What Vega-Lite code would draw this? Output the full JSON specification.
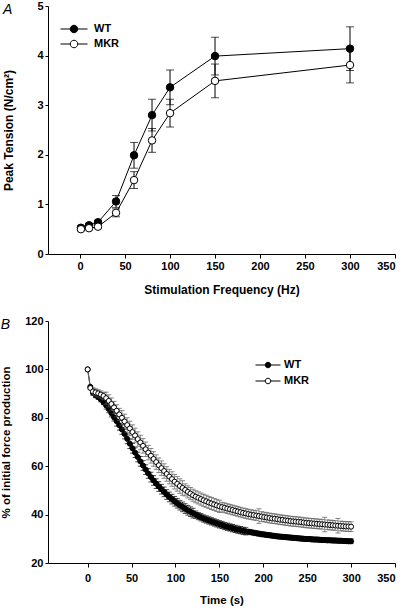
{
"$schema":"https://vega.github.io/schema/vega-lite/v6.json",
"padding":{"left":0,"top":0,"right":0,"bottom":0},
"background":"white",
"config":{
 "font":"Liberation Sans",
 "view":{"stroke":null},
 "axis":{"labelFont":"Liberation Sans","labelFontSize":11,"labelFontWeight":"bold","labelColor":"black","titleFont":"Liberation Sans","titleFontSize":11.5,"titleFontWeight":"bold","titleColor":"black","domainColor":"black","tickColor":"black","grid":false,"tickSize":4,"labelPadding":2,"domainWidth":1,"tickWidth":1},
 "title":{"font":"Liberation Sans","fontStyle":"italic","fontWeight":"normal","fontSize":14,"color":"black","anchor":"start","frame":"bounds"}
},
"datasets":{
"freq":[
{"g":"WT","f":1,"v":0.53,"e":0.04},{"g":"WT","f":10,"v":0.58,"e":0.04},{"g":"WT","f":20,"v":0.64,"e":0.04},{"g":"WT","f":40,"v":1.06,"e":0.12},{"g":"WT","f":60,"v":1.99,"e":0.26},{"g":"WT","f":80,"v":2.8,"e":0.32},{"g":"WT","f":100,"v":3.36,"e":0.35},{"g":"WT","f":150,"v":3.99,"e":0.38},{"g":"WT","f":300,"v":4.14,"e":0.44},
{"g":"MKR","f":1,"v":0.5,"e":0.03},{"g":"MKR","f":10,"v":0.52,"e":0.03},{"g":"MKR","f":20,"v":0.55,"e":0.03},{"g":"MKR","f":40,"v":0.83,"e":0.08},{"g":"MKR","f":60,"v":1.49,"e":0.17},{"g":"MKR","f":80,"v":2.29,"e":0.24},{"g":"MKR","f":100,"v":2.84,"e":0.28},{"g":"MKR","f":150,"v":3.49,"e":0.34},{"g":"MKR","f":300,"v":3.81,"e":0.36}
],
"fat":[
{"g":"WT","t":0,"v":100,"e":0},{"g":"WT","t":3,"v":92.8,"e":0.5},{"g":"WT","t":6,"v":90.3,"e":1},{"g":"WT","t":9,"v":89.3,"e":1},{"g":"WT","t":12,"v":88.6,"e":1},{"g":"WT","t":15,"v":87.6,"e":1},{"g":"WT","t":18,"v":86.4,"e":1},{"g":"WT","t":21,"v":85.1,"e":1.5},{"g":"WT","t":24,"v":83.6,"e":1.5},{"g":"WT","t":27,"v":81.9,"e":1.5},{"g":"WT","t":30,"v":80.2,"e":1.5},
{"g":"WT","t":33,"v":78.6,"e":2},{"g":"WT","t":36,"v":76.9,"e":2},{"g":"WT","t":39,"v":75.2,"e":2},{"g":"WT","t":42,"v":73.3,"e":2},{"g":"WT","t":45,"v":71.3,"e":2},{"g":"WT","t":48,"v":69.3,"e":2},{"g":"WT","t":51,"v":67.4,"e":2},{"g":"WT","t":54,"v":65.6,"e":2},{"g":"WT","t":57,"v":63.8,"e":2},{"g":"WT","t":60,"v":62,"e":2},
{"g":"WT","t":63,"v":60.3,"e":2},{"g":"WT","t":66,"v":58.6,"e":2},{"g":"WT","t":69,"v":57,"e":2},{"g":"WT","t":72,"v":55.5,"e":2},{"g":"WT","t":75,"v":54.1,"e":2},{"g":"WT","t":78,"v":52.8,"e":2},{"g":"WT","t":81,"v":51.6,"e":2},{"g":"WT","t":84,"v":50.5,"e":2},{"g":"WT","t":87,"v":49.4,"e":2},{"g":"WT","t":90,"v":48.3,"e":2},
{"g":"WT","t":93,"v":47.3,"e":2},{"g":"WT","t":96,"v":46.4,"e":2},{"g":"WT","t":99,"v":45.5,"e":2},{"g":"WT","t":102,"v":44.7,"e":2},{"g":"WT","t":105,"v":43.9,"e":2},{"g":"WT","t":108,"v":43.2,"e":2},{"g":"WT","t":111,"v":42.5,"e":2},{"g":"WT","t":114,"v":41.8,"e":2},{"g":"WT","t":117,"v":41.2,"e":2},{"g":"WT","t":120,"v":40.6,"e":2},
{"g":"WT","t":123,"v":40,"e":1.5},{"g":"WT","t":126,"v":39.4,"e":1.5},{"g":"WT","t":129,"v":38.9,"e":1.5},{"g":"WT","t":132,"v":38.4,"e":1.5},{"g":"WT","t":135,"v":38,"e":1.5},{"g":"WT","t":138,"v":37.6,"e":1.5},{"g":"WT","t":141,"v":37.2,"e":1.5},{"g":"WT","t":144,"v":36.8,"e":1.5},{"g":"WT","t":147,"v":36.4,"e":1.5},{"g":"WT","t":150,"v":36,"e":1.5},
{"g":"WT","t":153,"v":35.7,"e":1.5},{"g":"WT","t":156,"v":35.3,"e":1.5},{"g":"WT","t":159,"v":35,"e":1.5},{"g":"WT","t":162,"v":34.7,"e":1.5},{"g":"WT","t":165,"v":34.4,"e":1.5},{"g":"WT","t":168,"v":34.1,"e":1.5},{"g":"WT","t":171,"v":33.8,"e":1.5},{"g":"WT","t":174,"v":33.6,"e":1.5},{"g":"WT","t":177,"v":33.3,"e":1.5},{"g":"WT","t":180,"v":33.1,"e":1.5},
{"g":"WT","t":183,"v":32.9,"e":1},{"g":"WT","t":186,"v":32.7,"e":1},{"g":"WT","t":189,"v":32.5,"e":1},{"g":"WT","t":192,"v":32.3,"e":1},{"g":"WT","t":195,"v":32.1,"e":1},{"g":"WT","t":198,"v":31.9,"e":1},{"g":"WT","t":201,"v":31.8,"e":1},{"g":"WT","t":204,"v":31.6,"e":1},{"g":"WT","t":207,"v":31.5,"e":1},{"g":"WT","t":210,"v":31.3,"e":1},
{"g":"WT","t":213,"v":31.2,"e":1},{"g":"WT","t":216,"v":31,"e":1},{"g":"WT","t":219,"v":30.9,"e":1},{"g":"WT","t":222,"v":30.8,"e":1},{"g":"WT","t":225,"v":30.7,"e":1},{"g":"WT","t":228,"v":30.6,"e":1},{"g":"WT","t":231,"v":30.5,"e":1},{"g":"WT","t":234,"v":30.4,"e":1},{"g":"WT","t":237,"v":30.3,"e":1},{"g":"WT","t":240,"v":30.2,"e":1},
{"g":"WT","t":243,"v":30.1,"e":1},{"g":"WT","t":246,"v":30,"e":1},{"g":"WT","t":249,"v":29.9,"e":1},{"g":"WT","t":252,"v":29.9,"e":1},{"g":"WT","t":255,"v":29.8,"e":1},{"g":"WT","t":258,"v":29.7,"e":1},{"g":"WT","t":261,"v":29.7,"e":1},{"g":"WT","t":264,"v":29.6,"e":1},{"g":"WT","t":267,"v":29.5,"e":1},{"g":"WT","t":270,"v":29.5,"e":1},
{"g":"WT","t":273,"v":29.4,"e":1},{"g":"WT","t":276,"v":29.4,"e":1},{"g":"WT","t":279,"v":29.3,"e":1},{"g":"WT","t":282,"v":29.3,"e":1},{"g":"WT","t":285,"v":29.2,"e":1},{"g":"WT","t":288,"v":29.2,"e":1},{"g":"WT","t":291,"v":29.1,"e":1},{"g":"WT","t":294,"v":29.1,"e":1},{"g":"WT","t":297,"v":29,"e":1},{"g":"WT","t":300,"v":29,"e":1},
{"g":"MKR","t":0,"v":100,"e":0},{"g":"MKR","t":3,"v":92.3,"e":0.5},{"g":"MKR","t":6,"v":90.9,"e":1.5},{"g":"MKR","t":9,"v":90.5,"e":1.5},{"g":"MKR","t":12,"v":90.1,"e":1.5},{"g":"MKR","t":15,"v":89.6,"e":1.5},{"g":"MKR","t":18,"v":89,"e":1.5},{"g":"MKR","t":21,"v":88.1,"e":2.5},{"g":"MKR","t":24,"v":87,"e":2.5},{"g":"MKR","t":27,"v":85.7,"e":2.5},{"g":"MKR","t":30,"v":84.3,"e":2.5},
{"g":"MKR","t":33,"v":82.9,"e":2.5},{"g":"MKR","t":36,"v":81.4,"e":2.5},{"g":"MKR","t":39,"v":80,"e":3},{"g":"MKR","t":42,"v":78.5,"e":3},{"g":"MKR","t":45,"v":77,"e":3},{"g":"MKR","t":48,"v":75.6,"e":3},{"g":"MKR","t":51,"v":74.1,"e":3},{"g":"MKR","t":54,"v":72.7,"e":3},{"g":"MKR","t":57,"v":71.2,"e":3},{"g":"MKR","t":60,"v":69.8,"e":3},
{"g":"MKR","t":63,"v":68.4,"e":3},{"g":"MKR","t":66,"v":67,"e":3},{"g":"MKR","t":69,"v":65.6,"e":3},{"g":"MKR","t":72,"v":64.3,"e":3},{"g":"MKR","t":75,"v":63,"e":3},{"g":"MKR","t":78,"v":61.7,"e":3},{"g":"MKR","t":81,"v":60.4,"e":3},{"g":"MKR","t":84,"v":59.2,"e":3},{"g":"MKR","t":87,"v":58,"e":3},{"g":"MKR","t":90,"v":56.8,"e":3},
{"g":"MKR","t":93,"v":55.7,"e":3},{"g":"MKR","t":96,"v":54.7,"e":3},{"g":"MKR","t":99,"v":53.6,"e":3},{"g":"MKR","t":102,"v":52.7,"e":3},{"g":"MKR","t":105,"v":51.8,"e":3},{"g":"MKR","t":108,"v":51,"e":3},{"g":"MKR","t":111,"v":50.2,"e":2.5},{"g":"MKR","t":114,"v":49.4,"e":2.5},{"g":"MKR","t":117,"v":48.7,"e":2.5},{"g":"MKR","t":120,"v":48,"e":2.5},
{"g":"MKR","t":123,"v":47.4,"e":2.5},{"g":"MKR","t":126,"v":46.9,"e":2.5},{"g":"MKR","t":129,"v":46.4,"e":2.5},{"g":"MKR","t":132,"v":45.9,"e":2.5},{"g":"MKR","t":135,"v":45.5,"e":2.5},{"g":"MKR","t":138,"v":45,"e":2.5},{"g":"MKR","t":141,"v":44.6,"e":2.5},{"g":"MKR","t":144,"v":44.2,"e":2.5},{"g":"MKR","t":147,"v":43.8,"e":2.5},{"g":"MKR","t":150,"v":43.4,"e":2.5},
{"g":"MKR","t":153,"v":43.1,"e":2},{"g":"MKR","t":156,"v":42.8,"e":2},{"g":"MKR","t":159,"v":42.5,"e":2},{"g":"MKR","t":162,"v":42.2,"e":2},{"g":"MKR","t":165,"v":41.9,"e":2},{"g":"MKR","t":168,"v":41.6,"e":2},{"g":"MKR","t":171,"v":41.3,"e":2},{"g":"MKR","t":174,"v":41,"e":2},{"g":"MKR","t":177,"v":40.7,"e":2},{"g":"MKR","t":180,"v":40.5,"e":2},
{"g":"MKR","t":183,"v":40.2,"e":2},{"g":"MKR","t":186,"v":40,"e":2},{"g":"MKR","t":189,"v":39.8,"e":2},{"g":"MKR","t":192,"v":39.6,"e":2},{"g":"MKR","t":195,"v":39.4,"e":3},{"g":"MKR","t":198,"v":39.2,"e":2},{"g":"MKR","t":201,"v":39,"e":2},{"g":"MKR","t":204,"v":38.8,"e":2},{"g":"MKR","t":207,"v":38.6,"e":2},{"g":"MKR","t":210,"v":38.4,"e":2},
{"g":"MKR","t":213,"v":38.3,"e":2},{"g":"MKR","t":216,"v":38.1,"e":2},{"g":"MKR","t":219,"v":37.9,"e":2},{"g":"MKR","t":222,"v":37.8,"e":2},{"g":"MKR","t":225,"v":37.6,"e":2},{"g":"MKR","t":228,"v":37.5,"e":2},{"g":"MKR","t":231,"v":37.3,"e":2},{"g":"MKR","t":234,"v":37.2,"e":2},{"g":"MKR","t":237,"v":37.1,"e":2},{"g":"MKR","t":240,"v":37,"e":2},
{"g":"MKR","t":243,"v":36.9,"e":2},{"g":"MKR","t":246,"v":36.7,"e":2},{"g":"MKR","t":249,"v":36.6,"e":2},{"g":"MKR","t":252,"v":36.5,"e":2},{"g":"MKR","t":255,"v":36.4,"e":2},{"g":"MKR","t":258,"v":36.3,"e":2},{"g":"MKR","t":261,"v":36.2,"e":2},{"g":"MKR","t":264,"v":36.1,"e":2},{"g":"MKR","t":267,"v":36,"e":2},{"g":"MKR","t":270,"v":35.9,"e":3},
{"g":"MKR","t":273,"v":35.8,"e":2},{"g":"MKR","t":276,"v":35.7,"e":2},{"g":"MKR","t":279,"v":35.6,"e":2},{"g":"MKR","t":282,"v":35.5,"e":2},{"g":"MKR","t":285,"v":35.4,"e":3},{"g":"MKR","t":288,"v":35.3,"e":2},{"g":"MKR","t":291,"v":35.2,"e":2},{"g":"MKR","t":294,"v":35.1,"e":2},{"g":"MKR","t":297,"v":35.1,"e":2},{"g":"MKR","t":300,"v":35,"e":2}
]
},
"resolve":{"scale":{"fill":"independent"},"legend":{"fill":"independent"}},
"vconcat":[
{"hconcat":[{
 "width":347,"height":248,
 "title":{"text":"A","offset":-17},
 "data":{"name":"freq"},
 "encoding":{
  "x":{"field":"f","type":"quantitative","scale":{"domain":[-35.6,350],"nice":false,"zero":false,"padding":0},"axis":{"title":"Stimulation Frequency (Hz)","titleFontSize":12,"values":[0,50,100,150,200,250,300,350],"titlePadding":13}},
  "y":{"field":"v","type":"quantitative","scale":{"domain":[0,5],"nice":false,"padding":0},"axis":{"title":"Peak Tension (N/cm²)","titleFontSize":12,"values":[0,1,2,3,4,5],"titlePadding":21,"tickSize":3}}
 },
 "layer":[
  {"mark":{"type":"line","color":"black","strokeWidth":1},"encoding":{"detail":{"field":"g"}}},
  {"mark":{"type":"errorbar","color":"black","thickness":1,"ticks":{"size":8,"thickness":1,"color":"black"}},"encoding":{"yError":{"field":"e"}}},
  {"mark":{"type":"point","shape":"circle","filled":true,"size":56,"stroke":"black","strokeWidth":1,"opacity":1},
   "encoding":{"fill":{"field":"g","type":"nominal","sort":["WT","MKR"],"scale":{"domain":["WT","MKR"],"range":["black","white"]},
    "legend":{"orient":"none","legendX":18,"legendY":15,"title":null,"symbolType":"M-1.8,0L-0.5,0M0.5,0L1.8,0M-0.5,0A0.5,0.5,0,1,1,0.5,0A0.5,0.5,0,1,1,-0.5,0","symbolSize":225,"symbolStrokeColor":"black","symbolStrokeWidth":1,"labelFont":"Liberation Sans","labelFontSize":11,"labelFontWeight":"bold","labelColor":"black","labelOffset":12,"rowPadding":1,
     "encode":{"symbols":{"update":{"stroke":{"value":"black"},"strokeWidth":{"value":1},"opacity":{"value":1}}}}}}}}
 ]
}]},
{"hconcat":[{
 "width":347,"height":242,
 "title":{"text":"B","offset":-17},
 "data":{"name":"fat"},
 "encoding":{
  "x":{"field":"t","type":"quantitative","scale":{"domain":[-45.2,350],"nice":false,"zero":false,"padding":0},"axis":{"title":"Time (s)","values":[0,50,100,150,200,250,300,350],"labelPadding":5,"titlePadding":11}},
  "y":{"field":"v","type":"quantitative","scale":{"domain":[20,120],"nice":false,"zero":false,"padding":0},"axis":{"title":"% of initial force production","values":[20,40,60,80,100,120],"titlePadding":13,"tickSize":3}}
 },
 "layer":[
  {"transform":[{"filter":"datum.g === 'WT'"}],"mark":{"type":"line","strokeWidth":1,"color":"black"}},
  {"transform":[{"filter":"datum.g === 'MKR'"}],"mark":{"type":"line","strokeWidth":1,"color":"#666666"}},
  {"transform":[{"filter":"datum.g === 'WT'"}],"mark":{"type":"errorbar","color":"black","thickness":0.7,"ticks":{"size":5,"thickness":1,"color":"black"}},"encoding":{"yError":{"field":"e"}}},
  {"transform":[{"filter":"datum.g === 'WT'"}],"mark":{"type":"point","shape":"circle","filled":true,"size":25,"stroke":"black","strokeWidth":1,"opacity":1},
   "encoding":{"fill":{"field":"g","type":"nominal","scale":{"domain":["WT","MKR"],"range":["black","white"]},
    "legend":{"orient":"none","legendX":214,"legendY":38,"title":null,"values":["WT","MKR"],"symbolType":"M-2.27,0L-0.5,0M0.5,0L2.27,0M-0.5,0A0.5,0.5,0,1,1,0.5,0A0.5,0.5,0,1,1,-0.5,0","symbolSize":121,"symbolStrokeColor":"black","symbolStrokeWidth":1,"labelFont":"Liberation Sans","labelFontSize":11,"labelFontWeight":"bold","labelColor":"black","labelOffset":10,"rowPadding":5,
     "encode":{"symbols":{"update":{"stroke":{"signal":"datum.value === 'MKR' ? '#666666' : 'black'"},"strokeWidth":{"value":1},"opacity":{"value":1}}}}}}}},
  {"transform":[{"filter":"datum.g === 'MKR'"}],"mark":{"type":"errorbar","color":"#666666","thickness":0.7,"ticks":{"size":5,"thickness":1,"color":"#555555"}},"encoding":{"yError":{"field":"e"}}},
  {"transform":[{"filter":"datum.g === 'MKR'"}],"mark":{"type":"point","shape":"circle","filled":true,"size":25,"stroke":"black","strokeWidth":1,"opacity":1},
   "encoding":{"fill":{"field":"g","type":"nominal","scale":{"domain":["WT","MKR"],"range":["black","white"]}}}}
 ]
}]}
],
"spacing":20
}
